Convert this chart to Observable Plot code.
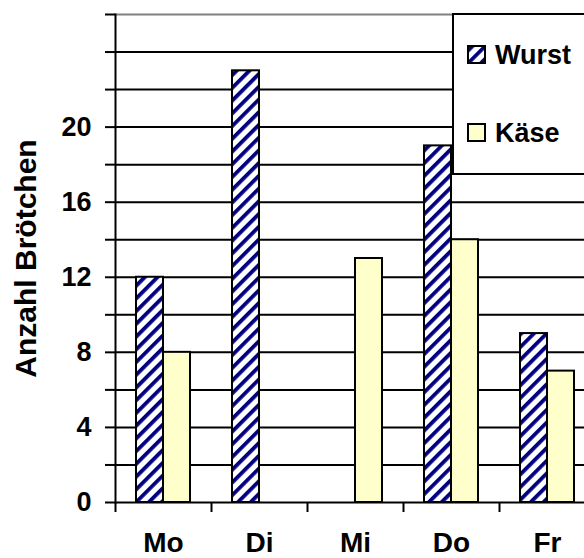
<!DOCTYPE html>
<html>
<head>
<meta charset="utf-8">
<script src="https://cdn.jsdelivr.net/npm/d3@7"></script>
<script src="https://cdn.jsdelivr.net/npm/@observablehq/plot@0.6"></script>
<style>
  html, body { margin: 0; padding: 0; overflow: hidden; background: #fff; }
  #wrap { position: relative; width: 584px; height: 558px; font-family: "Liberation Sans", Arial, sans-serif; }
  #legend { position: absolute; left: 452px; top: 13px; width: 150px; height: 162px; }
</style>
</head>
<body>
<div id="wrap"><div id="chart"></div><div id="legend"></div></div>
<script>
// ---- data ----
const days = ["Mo", "Di", "Mi", "Do", "Fr"];
const wurst = [12, 23, 0, 19, 9];
const kaese = [8, 0, 13, 14, 7];
const seriesNames = ["Wurst", "Käse"];
const yTickMarks = [0, 2, 4, 6, 8, 10, 12, 14, 16, 18, 20, 22, 24, 26];
const yGridLines = [2, 4, 6, 8, 10, 12, 14, 16, 18, 20, 22, 24];
const yTickLabels = [0, 4, 8, 12, 16, 20];
const yTitle = "Anzahl Brötchen";

const navy = "#000080";
const cheese = "#ffffcc";
const seriesFill = {"Wurst": "url(#hatch)", "Käse": cheese};

const table = days.map((d, i) => ({day: d, Wurst: wurst[i], "Käse": kaese[i]}));
const font = "'Liberation Sans', Arial, sans-serif";

const chart = Plot.plot({
  width: 584,
  height: 558,
  marginLeft: 115,
  marginRight: 0,
  marginTop: 14,
  marginBottom: 56,
  x: {domain: days, range: [115, 595], paddingInner: 0.71875, paddingOuter: 0.359375, round: false},
  y: {domain: [0, 26]},
  style: {fontFamily: font, background: "white", color: "black"},
  marks: [
    Plot.gridY(yGridLines, {stroke: "black", strokeOpacity: 1, strokeWidth: 2}),
    Plot.ruleY([26], {stroke: "#808080", strokeWidth: 2}),
    Plot.axisY({ticks: yTickMarks, tickSize: 10, tickFormat: () => "", strokeWidth: 2, label: null}),
    Plot.axisY({ticks: yTickLabels, tickSize: 0, tickPadding: 24, fontSize: 27, fontWeight: "bold", label: null}),
    Plot.barY(table, {x: "day", y: "Wurst", dx: -13.5, fill: seriesFill["Wurst"], stroke: "black", strokeWidth: 2}),
    Plot.barY(table, {x: "day", y: "Käse", dx: 13.5, fill: seriesFill["Käse"], stroke: "black", strokeWidth: 2}),
    Plot.ruleY([0], {stroke: "black", strokeWidth: 2}),
    Plot.frame({anchor: "left", stroke: "black", strokeWidth: 2}),
    Plot.axisX({tickSize: 10, tickFormat: () => "", dx: -48, strokeWidth: 2, label: null}),
    Plot.axisX({tickSize: 0, tickPadding: 30, fontSize: 28, fontWeight: "bold", label: null}),
    Plot.text([yTitle], {frameAnchor: "left", textAnchor: "middle", dx: -89, rotate: -90, fontSize: 30, fontWeight: "bold", fill: "black"})
  ]
});
document.getElementById("chart").appendChild(chart);

// hatch pattern definition
const defs = d3.select(chart).insert("defs", ":first-child");
const pat = defs.append("pattern")
  .attr("id", "hatch")
  .attr("patternUnits", "userSpaceOnUse")
  .attr("width", 9).attr("height", 9)
  .attr("patternTransform", "rotate(45)");
pat.append("rect").attr("width", 9).attr("height", 9).attr("fill", "white");
pat.append("rect").attr("width", 3.8).attr("height", 9).attr("fill", navy);

// legend
const lg = d3.select("#legend").append("svg")
  .attr("width", 150).attr("height", 162)
  .style("display", "block");
lg.append("rect").attr("x", 1).attr("y", 1).attr("width", 160).attr("height", 160)
  .attr("fill", "white").attr("stroke", "black").attr("stroke-width", 2);
seriesNames.forEach((name, i) => {
  const g = lg.append("g").attr("transform", `translate(0,${i * 78})`);
  g.append("rect").attr("x", 16).attr("y", 33).attr("width", 17).attr("height", 17)
    .attr("fill", seriesFill[name]).attr("stroke", "black").attr("stroke-width", 2);
  g.append("text").attr("x", 43).attr("y", 51)
    .attr("font-family", font).attr("font-size", 27).attr("font-weight", "bold")
    .attr("fill", "black").text(name);
});
</script>
</body>
</html>
